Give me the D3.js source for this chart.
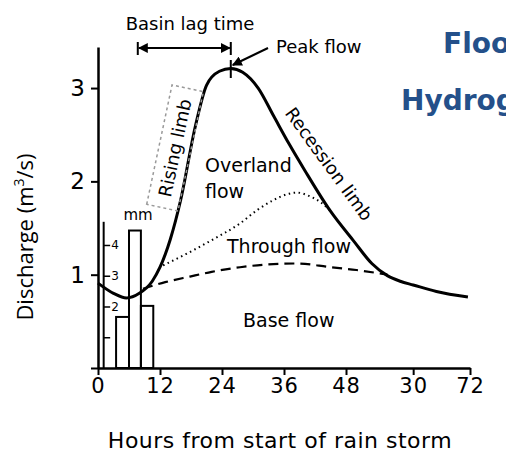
<!DOCTYPE html>
<html>
<head>
<meta charset="utf-8">
<script src="https://cdn.jsdelivr.net/npm/d3@7"></script>
<style>
  body { margin: 0; background: #fff; }
  svg { display: block; font-family: "DejaVu Sans", sans-serif; }
</style>
</head>
<body>
<div id="chart"></div>
<script>
// hydrograph (hours, m3/s)
var stormHours = [0, 3, 5.5, 8, 10.5, 12, 14, 16, 18.8, 21, 23.5, 25.7, 28, 31, 34, 37, 40, 45, 49.5, 53, 56, 58.5, 61, 65.5, 71.6];
var stormFlow  = [0.91, 0.8, 0.75, 0.8, 0.93, 1.08, 1.38, 1.8, 2.58, 3.03, 3.18, 3.21, 3.17, 3.0, 2.7, 2.4, 2.12, 1.68, 1.36, 1.12, 0.99, 0.93, 0.89, 0.82, 0.76];
var baseHours  = [8.7, 13, 17.8, 22, 27.5, 33, 38.5, 45, 50, 56];
var baseFlow   = [0.85, 0.92, 0.98, 1.03, 1.08, 1.11, 1.12, 1.08, 1.05, 1.0];
var thruHours  = [12.6, 17, 22, 27.5, 31, 34, 36.5, 38.5, 41, 43, 44.9];
var thruFlow   = [1.1, 1.22, 1.37, 1.55, 1.7, 1.8, 1.86, 1.88, 1.84, 1.78, 1.69];
// rainfall bars (hours from, hours to, mm)
var rainStart = [3.5, 6, 8.3];
var rainEnd   = [6, 8.3, 10.7];
var rainMm    = [1.66, 4.47, 2.02];
// axes
var xTickVals   = [0, 12, 24, 36, 48, 61, 72];
var xTickLabels = ["0", "12", "24", "36", "48", "30", "72"];
var yTickVals   = [0, 1, 2, 3];
var rainTickVals = [1, 2, 3, 4];
var peakHour = 25.7, lagFrom = 7.7;

var W = 506, H = 461;
var svg = d3.select('#chart').append('svg').attr('width', W).attr('height', H);

var x = d3.scaleLinear().domain([0, 72]).range([98, 470]);
var y = d3.scaleLinear().domain([0, 3.44]).range([368, 47]);
var r = d3.scaleLinear().domain([0, 4.77]).range([368, 221.3]);

function pts(hs, qs){ return hs.map(function(h, i){ return [h, qs[i]]; }); }
var line = d3.line().x(function(d){ return x(d[0]); }).y(function(d){ return y(d[1]); }).curve(d3.curveMonotoneX);

var defs = svg.append('defs');
defs.append('marker').attr('id', 'ah').attr('viewBox', '0 0 10 10').attr('refX', 9).attr('refY', 5)
  .attr('markerWidth', 5).attr('markerHeight', 5).attr('orient', 'auto-start-reverse')
  .append('path').attr('d', 'M0,0L10,5L0,10z').attr('fill', '#000');

// title (cut off at the right edge, as in the original)
svg.append('text').attr('x', 443).attr('y', 53).text('Flood')
  .style('font-size', '28px').style('font-weight', 'bold').style('fill', '#24508a');
svg.append('text').attr('x', 401).attr('y', 110).text('Hydrograph')
  .style('font-size', '28px').style('font-weight', 'bold').style('fill', '#24508a');

// rain bars
svg.append('g').selectAll('rect').data(rainMm).enter().append('rect')
  .attr('x', function(d, i){ return x(rainStart[i]); })
  .attr('width', function(d, i){ return x(rainEnd[i]) - x(rainStart[i]); })
  .attr('y', function(d){ return r(d); })
  .attr('height', function(d){ return r(0) - r(d); })
  .attr('fill', 'none').attr('stroke', '#000').attr('stroke-width', 2);

// rain axis
var ra = svg.append('g').attr('transform', 'translate(' + x(1) + ',0)')
  .call(d3.axisRight(r).tickValues(rainTickVals).tickSize(7).tickSizeOuter(0)
    .tickFormat(function(d){ return d > 1 ? d : ''; }));
ra.select('.domain').attr('stroke-width', 2);
ra.selectAll('.tick line').attr('stroke-width', 1.5);
ra.selectAll('.tick text').attr('x', 8).style('font-size', '12px').style('font-family', '"DejaVu Sans", sans-serif');
svg.append('text').attr('x', 138).attr('y', 220).attr('text-anchor', 'middle').text('mm').style('font-size', '15px');

// flows
svg.append('path').attr('d', line(pts(baseHours, baseFlow))).attr('fill', 'none')
  .attr('stroke', '#000').attr('stroke-width', 2.2).attr('stroke-dasharray', '10,6');
svg.append('path').attr('d', line(pts(thruHours, thruFlow))).attr('fill', 'none')
  .attr('stroke', '#000').attr('stroke-width', 2).attr('stroke-dasharray', '1.5,3.5');
svg.append('path').attr('d', line(pts(stormHours, stormFlow))).attr('fill', 'none')
  .attr('stroke', '#000').attr('stroke-width', 3);

// axes
var xa = svg.append('g').attr('transform', 'translate(0,' + y(0) + ')')
  .call(d3.axisBottom(x).tickValues(xTickVals).tickSize(7).tickSizeOuter(0)
    .tickFormat(function(d, i){ return xTickLabels[i]; }));
xa.select('.domain').attr('stroke-width', 2.5);
xa.selectAll('.tick line').attr('stroke-width', 2);
xa.selectAll('.tick text').attr('y', 10).style('font-size', '21px').style('letter-spacing', '1px')
  .style('font-family', '"DejaVu Sans", sans-serif');

var ya = svg.append('g').attr('transform', 'translate(' + x(0) + ',0)')
  .call(d3.axisLeft(y).tickValues(yTickVals).tickSize(7).tickSizeOuter(0)
    .tickFormat(function(d){ return d ? d : ''; }));
ya.select('.domain').attr('stroke-width', 2.5);
ya.selectAll('.tick line').attr('stroke-width', 2);
ya.selectAll('.tick text').attr('x', -13).style('font-size', '23px').style('font-family', '"DejaVu Sans", sans-serif');

svg.append('text').attr('x', 280).attr('y', 448).attr('text-anchor', 'middle')
  .text('Hours from start of rain storm').style('font-size', '22px').style('letter-spacing', '0.5px');
var yt = svg.append('text').attr('transform', 'translate(33,237) rotate(-90)').attr('text-anchor', 'middle')
  .style('font-size', '22px').style('font-family', '"Open Sans", sans-serif');
yt.append('tspan').text('Discharge (m');
yt.append('tspan').text('3').attr('dy', -9).style('font-size', '14px');
yt.append('tspan').text('/s)').attr('dy', 9);

// annotations
svg.append('text').attr('x', 190).attr('y', 30).attr('text-anchor', 'middle').text('Basin lag time').style('font-size', '18px');
svg.append('line').attr('x1', x(lagFrom) + 1).attr('x2', x(peakHour) - 1).attr('y1', 48).attr('y2', 48)
  .attr('stroke', '#000').attr('stroke-width', 2)
  .attr('marker-start', 'url(#ah)').attr('marker-end', 'url(#ah)');
[lagFrom, peakHour].forEach(function(h){
  svg.append('line').attr('x1', x(h)).attr('x2', x(h)).attr('y1', 42).attr('y2', 55).attr('stroke', '#000').attr('stroke-width', 2);
});
svg.append('line').attr('x1', x(peakHour)).attr('x2', x(peakHour)).attr('y1', 60).attr('y2', 78).attr('stroke', '#000').attr('stroke-width', 2);
svg.append('text').attr('x', 276).attr('y', 53).text('Peak flow').style('font-size', '18px');
svg.append('line').attr('x1', 268).attr('y1', 48).attr('x2', x(peakHour) + 2).attr('y2', 65)
  .attr('stroke', '#000').attr('stroke-width', 2).attr('marker-end', 'url(#ah)');

var rl = svg.append('g').attr('transform', 'translate(175,148) rotate(-78)');
rl.append('rect').attr('x', -61).attr('y', -16).attr('width', 122).attr('height', 32)
  .attr('fill', 'none').attr('stroke', '#999').attr('stroke-width', 1.5).attr('stroke-dasharray', '3,3');
rl.append('text').attr('text-anchor', 'middle').attr('dy', '0.35em').text('Rising limb').style('font-size', '18px');

svg.append('text').attr('transform', 'translate(329,164) rotate(54)').attr('text-anchor', 'middle')
  .attr('dy', '0.35em').text('Recession limb').style('font-size', '18px');

svg.append('text').attr('x', 205).attr('y', 172).text('Overland').style('font-size', '19px');
svg.append('text').attr('x', 205).attr('y', 198).text('flow').style('font-size', '19px');
svg.append('text').attr('x', 227).attr('y', 253).text('Through flow').style('font-size', '19px');
svg.append('text').attr('x', 243).attr('y', 327).text('Base flow').style('font-size', '19px');
</script>
</body>
</html>
